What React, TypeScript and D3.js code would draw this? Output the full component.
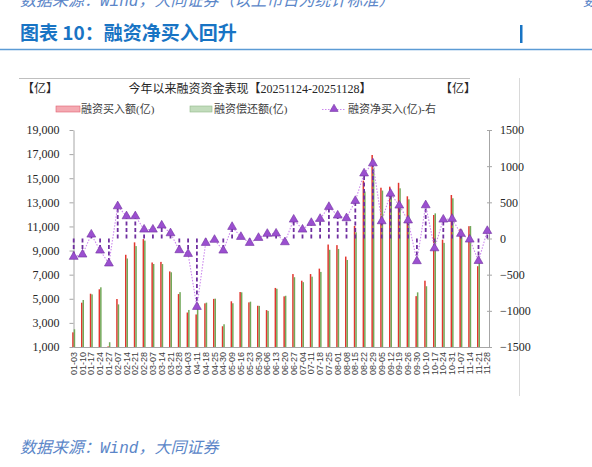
import { useEffect, useRef } from "react";
import * as d3 from "d3";

// weekly data, 2025
const weeks = [
  "01-03", "01-10", "01-17", "01-24", "01-27", "02-07", "02-14", "02-21",
  "02-28", "03-07", "03-14", "03-21", "03-28", "04-03", "04-11", "04-18",
  "04-25", "04-30", "05-09", "05-16", "05-23", "05-30", "06-06", "06-13",
  "06-20", "06-27", "07-04", "07-11", "07-18", "07-25", "08-01", "08-08",
  "08-15", "08-22", "08-29", "09-05", "09-12", "09-19", "09-26", "09-30",
  "10-10", "10-17", "10-24", "10-31", "11-07", "11-14", "11-21", "11-28",
];

const buyAmount: (number | null)[] = [
  2215, 4675, 5420, 5786, 1050, 4980, 8650, 9680, 9950, 8010, 8060, 7270,
  5390, 3860, 3700, 4620, 4990, 2720, 4790, 5560, 4700, 4420, 4060, 5900,
  5200, 7050, 6500, 7050, 7500, 9500, 9450, 8500, 11037, 14800, 16926, 14214,
  14300, 14620, 13500, 5220, 6500, 11950, 9900, 13608, 10800, 11020, 7700, null,
];

const repayAmount: (number | null)[] = [
  2468, 4898, 5365, 5952, 1395, 4534, 8342, 9372, 9826, 7886, 7880, 7197,
  5551, 4072, 4645, 4680, 5008, 2886, 4629, 5537, 4760, 4411, 3995, 5831,
  5251, 6788, 6376, 6834, 7228, 9063, 9132, 8219, 10517, 13900, 15886, 13975,
  13680, 14164, 13250, 5533, 6040, 12085, 9638, 13336, 10735, 11034, 8010, null,
];

const netBuy = [
  -253, -221, 55, -166, -345, 446, 308, 308, 124, 124, 180, 73,
  -161, -212, -945, -60, -18, -166, 161, 23, -60, 9, 65, 69,
  -51, 262, 124, 216, 272, 437, 318, 281, 520, 900, 1040, 239,
  620, 456, 250, -313, 460, -135, 262, 272, 65, -14, -310, 105,
];

const leftTicks = [1000, 3000, 5000, 7000, 9000, 11000, 13000, 15000, 17000, 19000];
const rightTicks = [-1500, -1000, -500, 0, 500, 1000, 1500];

const RED = "#e2362e";
const GREEN = "#72a95a";
const PURPLE = "#7030a0";

export default function App() {
  const ref = useRef<SVGSVGElement | null>(null);

  useEffect(() => {
    if (!ref.current) return;
    ref.current.innerHTML = "";
    const svg = d3.select(ref.current);

    const top = 130,
      bottom = 347,
      left = 73.5,
      right = 489;

    const x = d3.scalePoint<string>().domain(weeks).range([73.7, 487.3]);
    const yL = d3.scaleLinear().domain([1000, 19000]).range([bottom, top]);
    const yR = d3.scaleLinear().domain([-1500, 1500]).range([bottom, top]);

    // page header
    svg
      .append("text")
      .attr("x", 20)
      .attr("y", 6)
      .attr("fill", "#5b86c8")
      .attr("font-size", 16)
      .attr("font-style", "italic")
      .attr("font-family", "'Liberation Mono', 'Noto Sans CJK SC'")
      .text("数据来源：Wind，大同证券（以上市日为统计标准）");
    svg
      .append("text")
      .attr("x", 583)
      .attr("y", 6)
      .attr("fill", "#5b86c8")
      .attr("font-size", 16)
      .attr("font-style", "italic")
      .attr("font-family", "'Noto Sans CJK SC'")
      .text("数");
    svg
      .append("text")
      .attr("x", 20)
      .attr("y", 40)
      .attr("fill", "#1874c4")
      .attr("font-size", 19)
      .attr("font-weight", "bold")
      .attr("font-family", "'Noto Sans CJK SC'")
      .text("图表 10：融资净买入回升");
    svg
      .append("line")
      .attr("x1", 0)
      .attr("x2", 592)
      .attr("y1", 49.5)
      .attr("y2", 49.5)
      .attr("stroke", "#5b9bd5")
      .attr("stroke-width", 1.5);
    svg
      .append("rect")
      .attr("x", 520)
      .attr("y", 25)
      .attr("width", 2.5)
      .attr("height", 18)
      .attr("fill", "#1874c4");

    // chart frame bits
    svg
      .append("line")
      .attr("x1", 19)
      .attr("x2", 470)
      .attr("y1", 78.5)
      .attr("y2", 78.5)
      .attr("stroke", "#bfbfbf");
    svg
      .append("line")
      .attr("x1", 519.5)
      .attr("x2", 519.5)
      .attr("y1", 78)
      .attr("y2", 396)
      .attr("stroke", "#d9d9d9");

    const serif = "'Liberation Serif', 'Noto Sans CJK SC'";
    svg
      .append("text")
      .attr("x", 22)
      .attr("y", 93)
      .attr("font-size", 12)
      .attr("font-family", serif)
      .attr("fill", "#262626")
      .text("【亿】");
    svg
      .append("text")
      .attr("x", 440)
      .attr("y", 93)
      .attr("font-size", 12)
      .attr("font-family", serif)
      .attr("fill", "#262626")
      .text("【亿】");
    svg
      .append("text")
      .attr("x", 250)
      .attr("y", 93)
      .attr("text-anchor", "middle")
      .attr("font-size", 12)
      .attr("font-family", serif)
      .attr("fill", "#262626")
      .text("今年以来融资资金表现【20251124-20251128】");

    // legend
    const lg = svg.append("g").attr("font-size", 11).attr("font-family", serif).attr("fill", "#404040");
    lg.append("rect").attr("x", 56).attr("y", 106).attr("width", 24).attr("height", 6)
      .attr("fill", "#f4aab2").attr("stroke", "#e06070").attr("stroke-width", 0.6);
    lg.append("text").attr("x", 81).attr("y", 113).text("融资买入额(亿)");
    lg.append("rect").attr("x", 190).attr("y", 106).attr("width", 22).attr("height", 6)
      .attr("fill", "#c2dcbc").attr("stroke", "#90b888").attr("stroke-width", 0.6);
    lg.append("text").attr("x", 214).attr("y", 113).text("融资偿还额(亿)");
    lg.append("line").attr("x1", 322).attr("x2", 346).attr("y1", 109.5).attr("y2", 109.5)
      .attr("stroke", "#cc88ee").attr("stroke-width", 1).attr("stroke-dasharray", "1.5,1.5");
    lg.append("path")
      .attr("transform", "translate(334,109)")
      .attr("d", d3.symbol(d3.symbolTriangle).size(30)() as string)
      .attr("fill", "#9b4fd0")
      .attr("stroke", PURPLE)
      .attr("stroke-width", 0.6);
    lg.append("text").attr("x", 348).attr("y", 113).text("融资净买入(亿)-右");

    // left axis
    const axL = svg
      .append("g")
      .attr("transform", `translate(${left},0)`)
      .call(
        d3.axisLeft(yL).tickValues(leftTicks).tickFormat(d3.format(",")).tickSizeInner(4).tickSizeOuter(0).tickPadding(10)
      );
    axL.selectAll("path, line").attr("stroke", "#a6a6a6");
    axL.selectAll("text").attr("font-size", 12).attr("font-family", serif).attr("fill", "#262626");

    // right axis
    const axR = svg
      .append("g")
      .attr("transform", `translate(${right},0)`)
      .call(
        d3.axisRight(yR).tickValues(rightTicks).tickFormat(d3.format("d")).tickSizeInner(3).tickSizeOuter(0).tickPadding(8)
      );
    axR.selectAll("path, line").attr("stroke", "#a6a6a6");
    axR.selectAll("line").attr("x1", -2);
    axR.selectAll("text").attr("font-size", 12).attr("font-family", serif).attr("fill", "#262626");

    // bottom axis
    svg
      .append("line")
      .attr("x1", left)
      .attr("x2", right)
      .attr("y1", bottom + 0.5)
      .attr("y2", bottom + 0.5)
      .attr("stroke", "#a6a6a6");
    svg
      .append("g")
      .selectAll("text")
      .data(weeks)
      .join("text")
      .attr("transform", (d) => `translate(${x(d)! + 3},352)rotate(-90)`)
      .attr("text-anchor", "end")
      .attr("font-size", 9)
      .attr("font-family", "'Liberation Sans'")
      .attr("fill", "#404040")
      .text((d) => d);

    // bars
    const barW = 1.5;
    svg
      .append("g")
      .selectAll("rect")
      .data(weeks.map((w, i) => ({ w, v: buyAmount[i] })).filter((d) => d.v != null))
      .join("rect")
      .attr("x", (d) => x(d.w)! - barW)
      .attr("width", barW)
      .attr("y", (d) => yL(d.v!))
      .attr("height", (d) => yL(1000) - yL(d.v!))
      .attr("fill", RED);
    svg
      .append("g")
      .selectAll("rect")
      .data(weeks.map((w, i) => ({ w, v: repayAmount[i] })).filter((d) => d.v != null))
      .join("rect")
      .attr("x", (d) => x(d.w)!)
      .attr("width", barW)
      .attr("y", (d) => yL(d.v!))
      .attr("height", (d) => yL(1000) - yL(d.v!))
      .attr("fill", GREEN);

    const net = weeks.map((w, i) => ({ w, v: netBuy[i] }));

    // drop lines to zero
    svg
      .append("g")
      .selectAll("line")
      .data(net)
      .join("line")
      .attr("x1", (d) => x(d.w)!)
      .attr("x2", (d) => x(d.w)!)
      .attr("y1", yR(0))
      .attr("y2", (d) => yR(d.v))
      .attr("stroke", PURPLE)
      .attr("stroke-width", 1.8)
      .attr("stroke-dasharray", "4,2.5");

    // net buy line
    svg
      .append("path")
      .datum(net)
      .attr("fill", "none")
      .attr("stroke", "#cc88ee")
      .attr("stroke-width", 1.1)
      .attr("stroke-dasharray", "1.5,1.5")
      .attr(
        "d",
        d3
          .line<(typeof net)[number]>()
          .x((d) => x(d.w)!)
          .y((d) => yR(d.v))
      );

    svg
      .append("g")
      .selectAll("path")
      .data(net)
      .join("path")
      .attr("transform", (d) => `translate(${x(d.w)},${yR(d.v)})`)
      .attr("d", d3.symbol(d3.symbolTriangle).size(34)() as string)
      .attr("fill", "#9b4fd0")
      .attr("stroke", PURPLE)
      .attr("stroke-width", 0.6);

    // footer
    svg
      .append("text")
      .attr("x", 20)
      .attr("y", 453)
      .attr("fill", "#5b86c8")
      .attr("font-size", 16)
      .attr("font-style", "italic")
      .attr("font-family", "'Liberation Mono', 'Noto Sans CJK SC'")
      .text("数据来源：Wind，大同证券");
  }, []);

  return (
    <svg
      ref={ref}
      width={592}
      height={467}
      style={{ position: "absolute", left: 0, top: 0, background: "#fff" }}
    />
  );
}
